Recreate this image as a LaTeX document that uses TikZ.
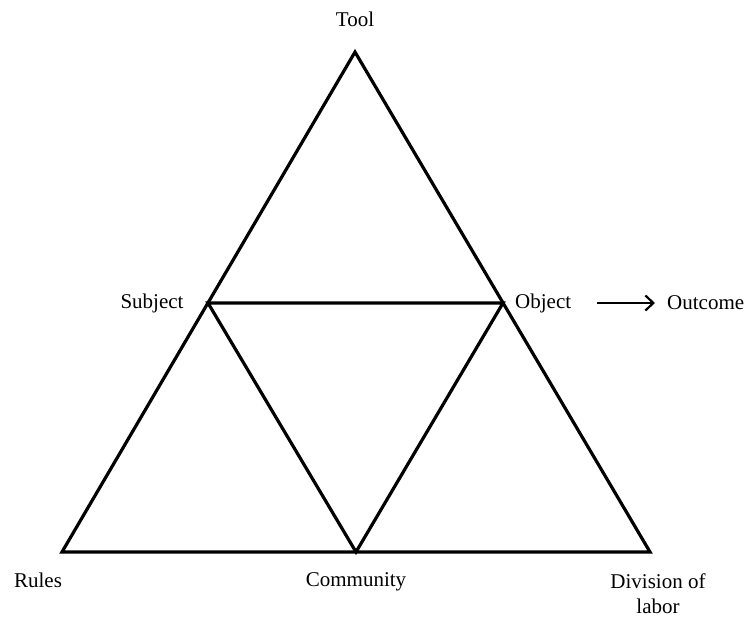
\documentclass[tikz,border=0pt]{standalone}
\usepackage{fontspec}
\setmainfont{Liberation Serif}
\usetikzlibrary{arrows.meta}
\begin{document}
\begin{tikzpicture}[x=1pt,y=1pt,
  edge/.style={line width=3.2pt,line join=miter,line cap=round},
  lbl/.style={font=\fontsize{21}{25}\selectfont,inner sep=0pt,align=center},
  flow/.style={line width=2.2pt,-{Straight Barb[length=8pt,width=15pt,line width=2.2pt]}}]
  \useasboundingbox (0,0) rectangle (747,619);
  \clip (0,0) rectangle (747,619);
  % vertices of the activity triangle
  \coordinate (tool) at (355,567);
  \coordinate (rules) at (62,67);
  \coordinate (div) at (650,67);
  \coordinate (subj) at (208,316);
  \coordinate (obj) at (503,316);
  \coordinate (comm) at (356,67);
  % outer triangle and inner triangle
  \draw[edge] (tool) -- (div) -- (rules) -- cycle;
  \draw[edge] (subj) -- (obj) -- (comm) -- cycle;
  % labels
  \node[lbl] (ltool) at (355,600) {Tool};
  \node[lbl] (lsubj) at (152,316) {Subject};
  \node[lbl,anchor=west] (lobj) at (515,316) {Object};
  \node[lbl,anchor=west] (lout) at (667,316) {Outcome};
  \node[lbl] (lrules) at (38,39) {Rules};
  \node[lbl] (lcomm) at (356,37) {Community};
  \node[lbl] (ldiv) at (658,25) {Division of\\labor};
  \draw[flow,shorten <=26pt,shorten >=12pt] (lobj.east) -- (lout.west);
\end{tikzpicture}
\end{document}
